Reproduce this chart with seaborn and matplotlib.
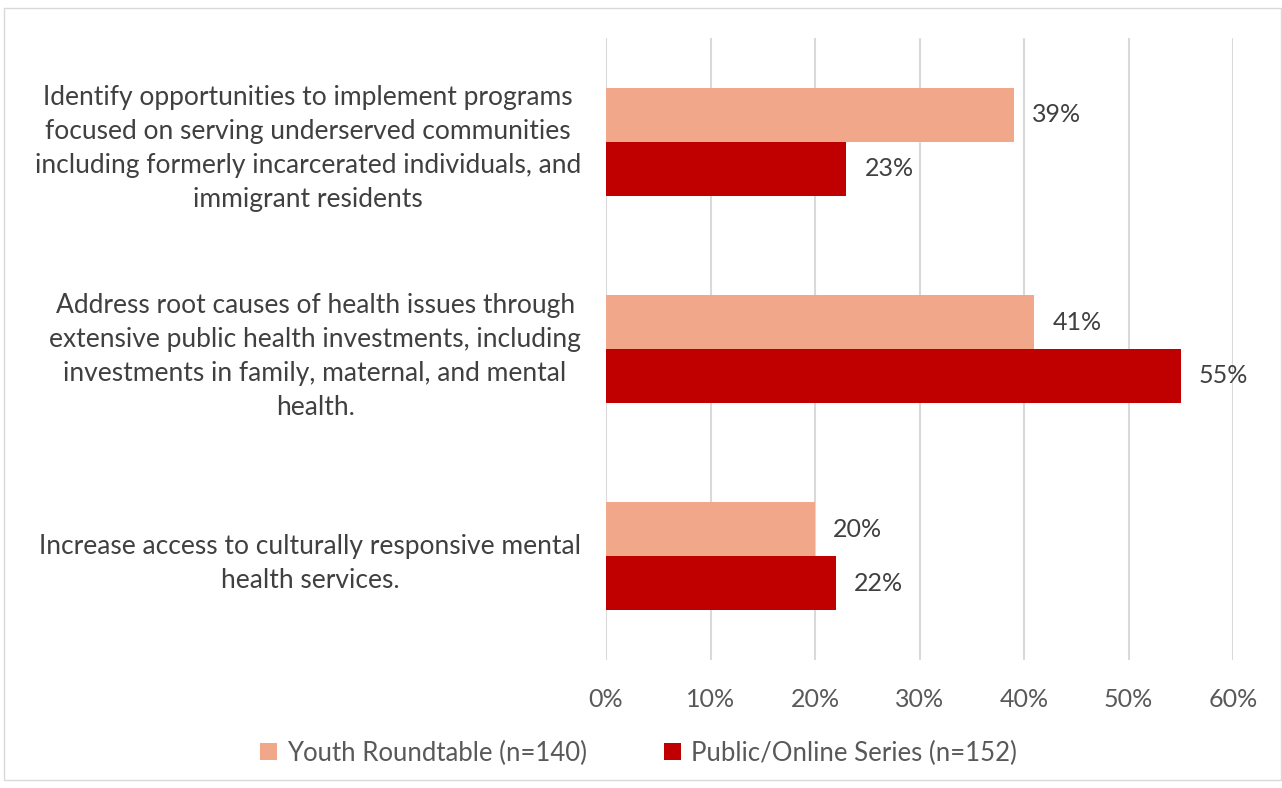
import pandas as pd
import numpy as np
import matplotlib.pyplot as plt
import seaborn as sns
from matplotlib.patches import Rectangle

categories = [
    "Identify opportunities to implement programs\nfocused on serving underserved communities\nincluding formerly incarcerated individuals, and\nimmigrant residents",
    "Address root causes of health issues through\nextensive public health investments, including\ninvestments in family, maternal, and mental\nhealth.",
    "Increase access to culturally responsive mental\nhealth services.",
]
series = ["Youth Roundtable (n=140)", "Public/Online Series (n=152)"]
youth = [39, 41, 20]
public = [23, 55, 22]
colors = ["#f1a78a", "#c00000"]
xticks = [0, 10, 20, 30, 40, 50, 60]

data = pd.DataFrame({
    "category": categories * 2,
    "group": [series[0]] * 3 + [series[1]] * 3,
    "value": youth + public,
})

sns.set_style("white")
plt.rcParams["font.family"] = ["Lato", "DejaVu Sans"]

fig = plt.figure(figsize=(12.82, 7.88), dpi=100)
ax = fig.add_axes([0.4727, 0.1624, 0.4891, 0.7894])

sns.barplot(data=data, x="value", y="category", hue="group", orient="h",
            palette=colors, saturation=1, width=0.52, linewidth=0,
            ax=ax, legend=True)

for c in ax.containers:
    ax.bar_label(c, labels=[f"{v:.0f}%" for v in c.datavalues], padding=13,
                 fontsize=18, color="#404040")

ax.set_xlim(0, 60)
ax.set_ylim(2.5, -0.5)
ax.set_xticks(xticks)
ax.set_xticklabels([f"{t}%" for t in xticks], fontsize=18, color="#595959")
ax.tick_params(axis="x", length=0, pad=20)
ax.tick_params(axis="y", length=0, pad=18)
for lab in ax.get_yticklabels():
    lab.set_fontsize(19)
    lab.set_color("#404040")
    lab.set_multialignment("center")
    lab.set_linespacing(1.45)
ax.set_xlabel("")
ax.set_ylabel("")
ax.grid(axis="x", color="#d9d9d9", linewidth=1.5)
ax.set_axisbelow(True)
for s in ax.spines.values():
    s.set_visible(False)

handles, labels = ax.get_legend_handles_labels()
ax.get_legend().remove()
fig.legend(handles, labels, loc="center", bbox_to_anchor=(0.498, 0.044), ncol=2,
           frameon=False, fontsize=18.5, labelcolor="#595959", handlelength=0.65,
           handleheight=0.65, handletextpad=0.4, columnspacing=3.0)

fig.patches.append(Rectangle((4 / 1282, 8 / 788), 1 - 5 / 1282, 1 - 16 / 788,
                             transform=fig.transFigure, fill=False,
                             edgecolor="#d9d9d9", linewidth=1))

fig.savefig("out.png", dpi=100)
